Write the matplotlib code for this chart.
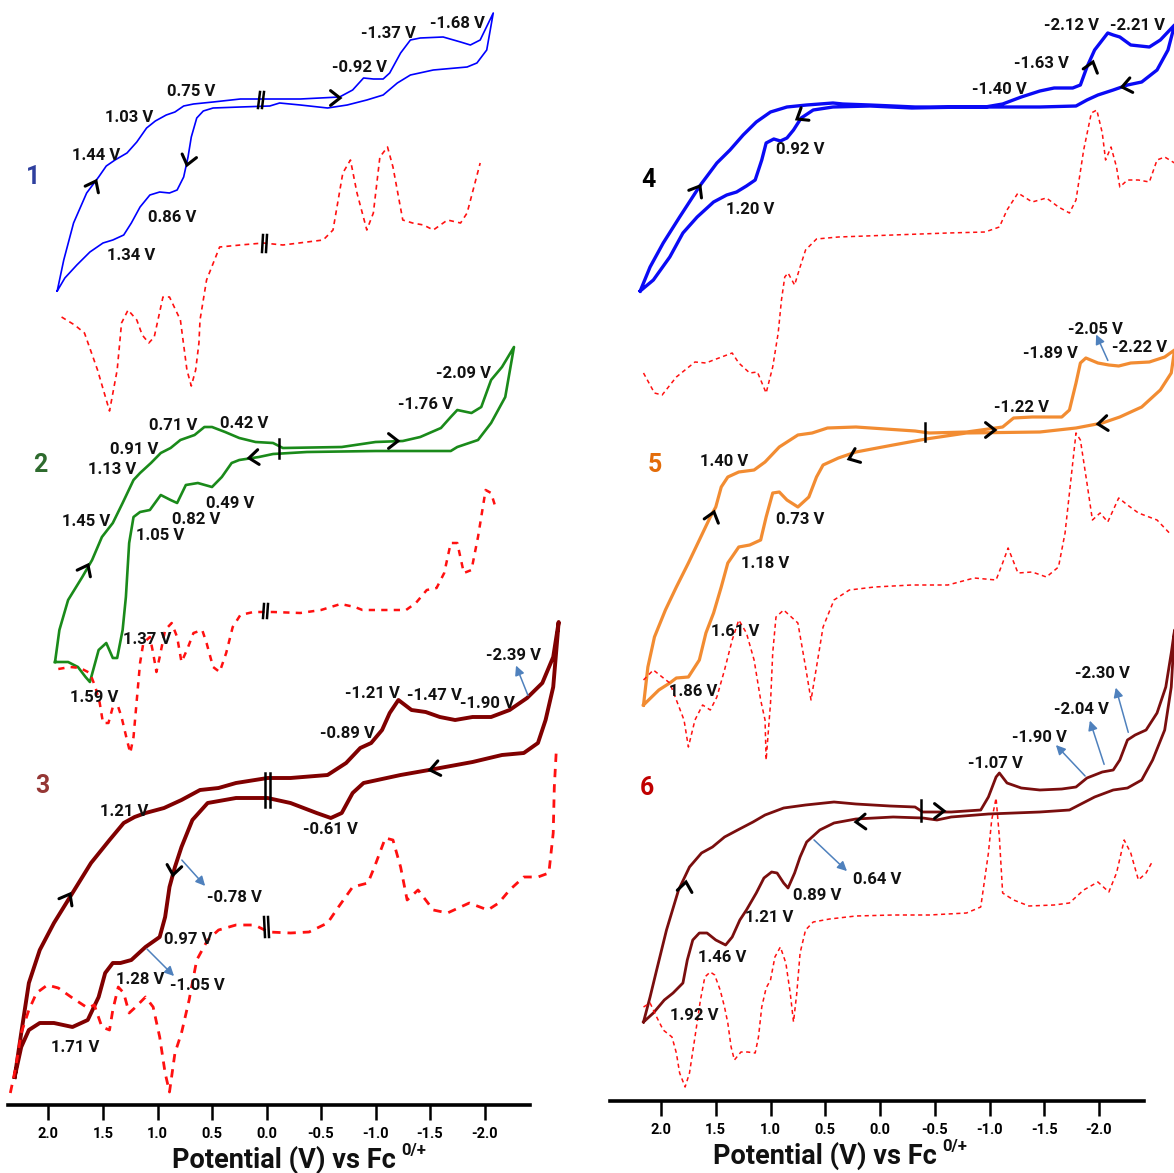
import numpy as np
import matplotlib
matplotlib.use('Agg')
import matplotlib.pyplot as plt
from matplotlib.lines import Line2D
from matplotlib.patches import FancyArrowPatch

plt.rcParams['lines.scale_dashes'] = False

# ---- panel 1 (left column, top) ----
cv1_fwd_E = [1.92, 1.86, 1.77, 1.65, 1.54, 1.47, 1.39, 1.28, 1.19, 1.10, 1.02, 0.92, 0.84, 0.76, 0.67, 0.49,
             0.24, -0.03, -0.10, -0.31, -0.67, -0.79, -0.89, -0.98, -1.07, -1.13, -1.23, -1.32, -1.41, -1.62,
             -1.78, -1.87, -1.96, -2.08]
cv1_fwd_I = [291, 260, 223, 193, 177, 166, 160, 153, 142, 128, 121, 115, 112, 106, 104, 102,
             99, 99, 99, 99, 97, 90, 78, 79, 79, 73, 53, 40, 38, 37,
             42, 45, 40, 13]
cv1_rev_E = [-2.02, -1.93, -1.84, -1.53, -1.32, -1.20, -1.07, -0.92, -0.74, -0.56, -0.31, -0.12, -0.03, 0.24,
             0.49, 0.58, 0.64, 0.69, 0.72, 0.76, 0.82, 0.89, 0.98, 1.07, 1.16, 1.24, 1.31, 1.41, 1.50, 1.62,
             1.74, 1.85, 1.92]
cv1_rev_I = [50, 63, 67, 70, 75, 83, 95, 100, 105, 108, 105, 103, 106, 107,
             108, 111, 118, 137, 157, 177, 190, 193, 192, 195, 207, 223, 235, 240, 243, 252,
             265, 278, 291]
dpv1_E = [1.88, 1.76, 1.67, 1.55, 1.44, 1.37, 1.34, 1.33, 1.27, 1.19, 1.14, 1.08, 1.03, 1.01, 0.95,
          0.89, 0.79, 0.73, 0.69, 0.65, 0.62, 0.61, 0.55, 0.43, 0.24, 0.03, -0.15, -0.52, -0.61, -0.70,
          -0.77, -0.83, -0.92, -0.98, -1.04, -1.11, -1.16, -1.25, -1.34, -1.44, -1.53, -1.66, -1.78, -1.84, -1.96]
dpv1_I = [317, 325, 333, 370, 411, 370, 335, 323, 310, 320, 335, 343, 337, 327, 297,
          297, 320, 370, 386, 370, 343, 320, 280, 247, 245, 243, 245, 240, 230, 173,
          160, 193, 230, 213, 157, 147, 167, 220, 223, 225, 230, 220, 223, 213, 163]

# ---- panel 2 ----
cv2_fwd_E = [1.94, 1.90, 1.82, 1.69, 1.60, 1.51, 1.41, 1.32, 1.22, 1.16, 1.06, 0.97, 0.88, 0.79, 0.66, 0.57, 0.50,
             0.38, 0.25, 0.10, -0.06, -0.15, -0.69, -1.00, -1.25, -1.41, -1.60, -1.69, -1.75, -1.88, -1.97, -2.06,
             -2.16, -2.27]
cv2_fwd_I = [662, 630, 600, 577, 560, 537, 523, 503, 480, 473, 463, 453, 448, 440, 435, 427, 427,
             432, 438, 442, 443, 448, 447, 442, 441, 437, 428, 417, 410, 413, 407, 380,
             367, 347]
cv2_rev_E = [-2.19, -2.06, -1.94, -1.75, -1.69, -1.00, -0.37, -0.06, 0.07, 0.25, 0.32, 0.41, 0.50, 0.63, 0.74,
             0.82, 0.88, 0.97, 1.07, 1.16, 1.22, 1.26, 1.29, 1.32, 1.37, 1.41, 1.47, 1.54, 1.62, 1.66, 1.73, 1.82, 1.94]
cv2_rev_I = [397, 423, 440, 447, 451, 451, 452, 454, 457, 460, 463, 477, 487, 483, 485,
             503, 500, 495, 510, 512, 517, 543, 597, 630, 658, 658, 643, 650, 682, 677, 667, 662, 662]
dpv2_E = [1.91, 1.80, 1.71, 1.62, 1.57, 1.53, 1.50, 1.45, 1.41, 1.36, 1.33, 1.28, 1.25, 1.22, 1.19, 1.16,
          1.13, 1.07, 1.04, 1.01, 0.98, 0.93, 0.87, 0.82, 0.78, 0.73, 0.67, 0.59, 0.55, 0.49, 0.43, 0.37,
          0.31, 0.24, 0.12, -0.06, -0.31, -0.50, -0.68, -0.81, -0.88, -1.06, -1.28, -1.37, -1.47, -1.56,
          -1.63, -1.69, -1.75, -1.81, -1.88, -1.94, -2.01, -2.06, -2.10]
dpv2_I = [669, 667, 668, 673, 687, 703, 723, 723, 707, 707, 717, 740, 753, 737, 700, 663,
          643, 637, 653, 672, 657, 630, 623, 637, 662, 650, 633, 630, 643, 667, 672, 653,
          627, 615, 612, 612, 613, 610, 604, 607, 610, 610, 610, 603, 590, 588,
          573, 543, 543, 573, 570, 537, 490, 493, 507]

# ---- panel 3 ----
cv3_fwd_E = [2.31, 2.25, 2.18, 2.08, 1.95, 1.78, 1.61, 1.44, 1.31, 1.21, 1.11, 0.94, 0.78, 0.61, 0.44, 0.28,
             -0.01, -0.22, -0.56, -0.73, -0.86, -0.96, -1.06, -1.13, -1.21, -1.33, -1.46, -1.59, -1.73, -1.89,
             -2.06, -2.23, -2.39, -2.53, -2.63, -2.68]
cv3_fwd_I = [1077, 1033, 983, 950, 923, 893, 863, 840, 823, 817, 813, 808, 800, 790, 788, 783,
             778, 778, 775, 763, 748, 743, 730, 713, 700, 710, 712, 717, 720, 717,
             717, 710, 698, 683, 657, 622]
cv3_rev_E = [-2.63, -2.56, -2.49, -2.36, -2.16, -1.89, -1.49, -1.23, -0.89, -0.79, -0.69, -0.59, -0.46, -0.22,
             -0.01, 0.28, 0.54, 0.68, 0.78, 0.84, 0.89, 0.93, 0.98, 1.11, 1.24, 1.34, 1.41, 1.48, 1.54, 1.64,
             1.78, 1.95, 2.08, 2.18, 2.25, 2.31]
cv3_rev_I = [687, 720, 743, 753, 755, 762, 770, 775, 783, 793, 813, 818, 813, 803,
             798, 798, 803, 820, 847, 867, 887, 917, 937, 947, 960, 963, 963, 973, 997, 1020,
             1027, 1023, 1023, 1030, 1047, 1077]
dpv3_E = [2.35, 2.30, 2.25, 2.18, 2.11, 2.01, 1.91, 1.78, 1.64, 1.58, 1.51, 1.44, 1.41, 1.36, 1.31, 1.26,
          1.21, 1.11, 1.04, 0.98, 0.93, 0.89, 0.84, 0.78, 0.71, 0.64, 0.54, 0.44, 0.28, 0.11, -0.02, -0.22,
          -0.39, -0.56, -0.66, -0.79, -0.93, -0.99, -1.09, -1.16, -1.23, -1.29, -1.39, -1.53, -1.66, -1.86,
          -2.03, -2.13, -2.23, -2.36, -2.49, -2.59, -2.63, -2.64, -2.66]
dpv3_I = [1093, 1067, 1033, 1010, 993, 985, 988, 998, 1008, 1005, 1027, 1030, 1010, 987, 993, 1013,
          1008, 997, 1007, 1037, 1073, 1092, 1053, 1033, 1000, 960, 940, 930, 925, 925, 932, 933,
          932, 923, 907, 887, 883, 867, 838, 840, 867, 900, 890, 910, 913, 903,
          910, 903, 890, 877, 877, 873, 833, 787, 747]

# ---- panel 4 (right column, top) ----
cv4_fwd_E = [2.19, 2.10, 1.98, 1.83, 1.64, 1.49, 1.37, 1.25, 1.13, 1.00, 0.85, 0.67, 0.43, 0.34, 0.09, -0.12,
             -0.32, -0.62, -0.96, -1.12, -1.29, -1.46, -1.59, -1.76, -1.83, -1.89, -1.96, -2.08, -2.13, -2.19,
             -2.29, -2.46, -2.56, -2.69]
cv4_fwd_I = [291, 267, 243, 217, 185, 163, 150, 135, 122, 112, 107, 105, 103, 104, 105, 106,
             107, 107, 107, 104, 97, 91, 88, 88, 85, 67, 50, 33, 35, 37,
             45, 47, 40, 25]
cv4_rev_E = [-2.63, -2.53, -2.39, -2.26, -2.13, -1.99, -1.89, -1.79, -1.46, -0.79, -0.29, 0.09, 0.43, 0.61, 0.72,
             0.79, 0.85, 0.91, 0.97, 1.04, 1.08, 1.14, 1.22, 1.31, 1.40, 1.52, 1.67, 1.80, 1.92, 2.07, 2.19]
cv4_rev_I = [50, 70, 82, 85, 90, 95, 100, 106, 107, 107, 108, 106, 107, 110, 118,
             130, 138, 141, 139, 143, 160, 180, 186, 192, 195, 202, 217, 233, 257, 280, 291]
dpv4_E = [2.16, 2.06, 1.99, 1.86, 1.69, 1.59, 1.52, 1.35, 1.29, 1.19, 1.12, 1.04, 0.98, 0.93, 0.90, 0.87,
          0.84, 0.78, 0.73, 0.68, 0.58, 0.38, -0.12, -0.62, -0.96, -1.09, -1.16, -1.26, -1.39, -1.52, -1.63,
          -1.73, -1.79, -1.86, -1.93, -1.98, -2.03, -2.06, -2.11, -2.16, -2.19, -2.26, -2.36, -2.46, -2.53,
          -2.60, -2.69]
dpv4_I = [373, 393, 395, 377, 362, 363, 360, 353, 363, 373, 372, 393, 367, 333, 300, 277,
          273, 285, 267, 250, 239, 237, 235, 233, 232, 227, 210, 193, 202, 198, 207,
          213, 200, 150, 113, 110, 133, 160, 147, 167, 187, 180, 180, 182, 160,
          157, 163]

# ---- panel 5 ----
cv5_fwd_E = [2.16, 2.12, 2.06, 1.96, 1.86, 1.75, 1.65, 1.55, 1.50, 1.45, 1.39, 1.29, 1.15, 1.05, 0.92, 0.75,
             0.62, 0.48, 0.22, -0.05, -0.32, -0.45, -0.79, -0.99, -1.12, -1.22, -1.39, -1.66, -1.73, -1.79,
             -1.83, -1.88, -1.99, -2.09, -2.18, -2.29, -2.46, -2.60, -2.69]
cv5_fwd_I = [705, 667, 637, 610, 587, 563, 540, 517, 507, 487, 477, 472, 470, 462, 447, 435,
             433, 428, 427, 429, 431, 433, 432, 429, 427, 418, 417, 417, 410, 383,
             363, 358, 363, 365, 366, 363, 362, 357, 350]
cv5_rev_E = [-2.66, -2.56, -2.39, -2.19, -2.03, -1.79, -1.46, -0.79, -0.42, -0.12, 0.22, 0.38, 0.52, 0.58, 0.65,
             0.75, 0.85, 0.92, 0.98, 1.04, 1.09, 1.19, 1.29, 1.39, 1.45, 1.52, 1.59, 1.65, 1.75, 1.86, 1.92,
             2.02, 2.16]
cv5_rev_I = [373, 390, 407, 417, 423, 428, 432, 433, 439, 445, 452, 458, 465, 477, 497,
             507, 500, 492, 493, 517, 540, 545, 547, 563, 587, 613, 633, 660, 677, 678, 683,
             690, 705]
dpv5_E = [2.16, 2.07, 1.99, 1.92, 1.86, 1.79, 1.75, 1.69, 1.62, 1.55, 1.49, 1.42, 1.35, 1.29, 1.22, 1.15,
          1.09, 1.05, 1.04, 1.00, 0.98, 0.95, 0.88, 0.75, 0.68, 0.63, 0.58, 0.52, 0.42, 0.28, 0.05, -0.29,
          -0.62, -0.86, -1.06, -1.12, -1.17, -1.26, -1.39, -1.52, -1.63, -1.69, -1.74, -1.79, -1.83, -1.89,
          -1.94, -2.01, -2.08, -2.18, -2.26, -2.36, -2.53, -2.66]
dpv5_I = [680, 670, 677, 683, 700, 720, 747, 720, 705, 710, 697, 670, 640, 620, 633, 660,
          700, 720, 760, 703, 653, 617, 610, 623, 667, 700, 667, 627, 600, 590, 587, 585,
          585, 578, 580, 563, 548, 573, 572, 577, 567, 533, 483, 433, 440, 483,
          520, 513, 522, 498, 505, 513, 520, 535]

# ---- panel 6 ----
cv6_fwd_E = [2.16, 2.10, 2.04, 1.95, 1.84, 1.74, 1.63, 1.53, 1.42, 1.30, 1.16, 1.05, 0.88, 0.68, 0.42, 0.22,
             -0.09, -0.32, -0.39, -0.65, -0.92, -0.99, -1.06, -1.09, -1.16, -1.29, -1.46, -1.66, -1.79, -1.89,
             -2.03, -2.13, -2.19, -2.26, -2.33, -2.43, -2.53, -2.61, -2.66, -2.69]
cv6_fwd_I = [1022, 997, 970, 930, 890, 867, 853, 847, 837, 830, 822, 815, 808, 805, 802, 804,
             806, 807, 812, 812, 810, 797, 777, 773, 783, 788, 790, 789, 787, 778,
             772, 770, 760, 740, 735, 730, 713, 687, 653, 630]
cv6_rev_E = [-2.66, -2.60, -2.49, -2.39, -2.26, -2.13, -1.96, -1.73, -1.46, -0.99, -0.65, -0.52, -0.39, -0.12,
             0.22, 0.42, 0.55, 0.67, 0.73, 0.78, 0.84, 0.88, 0.94, 0.99, 1.06, 1.13, 1.22, 1.28, 1.35, 1.41,
             1.50, 1.58, 1.65, 1.71, 1.76, 1.80, 1.89, 1.97, 2.07, 2.16]
cv6_rev_I = [687, 730, 760, 780, 788, 790, 797, 810, 812, 814, 817, 820, 818, 817,
             819, 823, 830, 842, 857, 873, 888, 883, 873, 872, 878, 893, 910, 920, 937, 945,
             940, 933, 933, 940, 960, 983, 993, 1000, 1013, 1022]
dpv6_E = [2.16, 2.10, 2.04, 1.98, 1.90, 1.86, 1.83, 1.78, 1.74, 1.69, 1.64, 1.60, 1.55, 1.51, 1.46, 1.42,
          1.39, 1.36, 1.33, 1.27, 1.21, 1.14, 1.11, 1.08, 1.04, 1.00, 0.96, 0.91, 0.86, 0.82, 0.79, 0.76,
          0.73, 0.68, 0.61, 0.46, 0.22, -0.12, -0.45, -0.79, -0.92, -0.99, -1.02, -1.06, -1.09, -1.12, -1.22,
          -1.36, -1.59, -1.73, -1.86, -1.99, -2.09, -2.16, -2.23, -2.29, -2.36, -2.43, -2.48]
dpv6_I = [1007, 1003, 1017, 1030, 1037, 1053, 1073, 1087, 1073, 1037, 1000, 977, 972, 975, 990, 1007,
          1023, 1047, 1060, 1052, 1052, 1053, 1037, 1007, 988, 980, 957, 947, 963, 993, 1022, 993,
          953, 930, 922, 919, 916, 915, 915, 913, 907, 853, 820, 798, 837, 893, 900,
          906, 905, 903, 890, 882, 892, 873, 840, 853, 880, 873, 863]

ticks = [2.0, 1.5, 1.0, 0.5, 0.0, -0.5, -1.0, -1.5, -2.0]
tick_labels = ['2.0', '1.5', '1.0', '0.5', '0.0', '-0.5', '-1.0', '-1.5', '-2.0']

W, H = 1174, 1173
FONT = ['Roboto', 'DejaVu Sans']


def fp(x, y):
    """pixel position (from top-left) -> figure fraction"""
    return x / W, 1 - y / H


fig = plt.figure(figsize=(W / 100, H / 100), dpi=100)
renderer = fig.canvas.get_renderer()


def fit_size(text, width_px, base=10):
    """font size that gives the text about the width seen in the reference"""
    t = fig.text(0, 0, text, fontsize=base, fontweight='bold', family=FONT)
    w = t.get_window_extent(renderer).width
    t.remove()
    return base * width_px / w


label_fs = fit_size('-1.37 V', 55)
title_fs = fit_size('Potential (V) vs Fc', 224)

axL = fig.add_axes([7.5 / W, 1 - 1105 / H, (530 - 7.5) / W, 1105 / H])
axR = fig.add_axes([610 / W, 1 - 1101 / H, (1144 - 610) / W, 1101 / H])
axL.set_xlim(2.376, -2.417)
axL.set_ylim(1105, 0)
axR.set_xlim(2.466, -2.411)
axR.set_ylim(1101, 0)

for ax in (axL, axR):
    for s in ('left', 'right', 'top'):
        ax.spines[s].set_visible(False)
    ax.spines['bottom'].set_linewidth(2.6)
    ax.set_yticks([])
    ax.set_xticks(ticks)
    ax.set_xticklabels(tick_labels, family=FONT, fontweight='bold', fontsize=10.5)
    ax.tick_params(axis='x', length=11, width=1.8, pad=5, direction='out')
    ax.patch.set_alpha(0)


def cv(ax, fe, fi, re_, ri, color, lw):
    ax.plot(np.concatenate([fe, re_]), np.concatenate([fi, ri]), color=color, lw=lw,
            solid_joinstyle='round', clip_on=False)


def dpv(ax, e, i, lw, dash):
    ax.plot(e, i, color='#FF1010', lw=lw, dashes=dash, clip_on=False)


cv(axL, cv1_fwd_E, cv1_fwd_I, cv1_rev_E, cv1_rev_I, '#0000FF', 1.2)
dpv(axL, dpv1_E, dpv1_I, 1.2, (3.5, 3))
cv(axL, cv2_fwd_E, cv2_fwd_I, cv2_rev_E, cv2_rev_I, '#1A8A1A', 1.9)
dpv(axL, dpv2_E, dpv2_I, 1.8, (4.5, 4.5))
cv(axL, cv3_fwd_E, cv3_fwd_I, cv3_rev_E, cv3_rev_I, '#800000', 2.8)
dpv(axL, dpv3_E, dpv3_I, 2.0, (6, 5))

cv(axR, cv4_fwd_E, cv4_fwd_I, cv4_rev_E, cv4_rev_I, '#0A0AF5', 2.4)
dpv(axR, dpv4_E, dpv4_I, 1.1, (3, 2.5))
cv(axR, cv5_fwd_E, cv5_fwd_I, cv5_rev_E, cv5_rev_I, '#F28C32', 2.3)
dpv(axR, dpv5_E, dpv5_I, 1.1, (3, 2.5))
cv(axR, cv6_fwd_E, cv6_fwd_I, cv6_rev_E, cv6_rev_I, '#7A0E0E', 2.0)
dpv(axR, dpv6_E, dpv6_I, 1.1, (3, 2.5))

# peak labels (pixel positions of text centres)
peak_labels = [
    ('-1.37 V', 388, 33), ('-1.68 V', 457, 24), ('-0.92 V', 360, 67), ('0.75 V', 191, 92),
    ('1.03 V', 129, 118), ('1.44 V', 96, 155), ('0.86 V', 172, 218), ('1.34 V', 131, 255),
    ('-2.09 V', 464, 374), ('-1.76 V', 426, 404), ('0.71 V', 173, 425), ('0.42 V', 244, 423),
    ('0.91 V', 134, 449), ('1.13 V', 112, 470), ('1.45 V', 86, 521), ('0.49 V', 230, 503),
    ('0.82 V', 196, 519), ('1.05 V', 160, 536), ('1.37 V', 147, 640), ('1.59 V', 94, 697),
    ('-2.39 V', 513, 655), ('-1.21 V', 372, 694), ('-1.47 V', 434, 695), ('-1.90 V', 487, 704),
    ('-0.89 V', 347, 734), ('1.21 V', 124, 811), ('-0.61 V', 330, 830), ('-0.78 V', 234, 897),
    ('0.97 V', 188, 940), ('1.28 V', 140, 980), ('-1.05 V', 197, 986), ('1.71 V', 75, 1048),
    ('-2.12 V', 1071, 25), ('-2.21 V', 1137, 25), ('-1.63 V', 1041, 63), ('-1.40 V', 999, 90),
    ('0.92 V', 800, 150), ('1.20 V', 750, 210),
    ('-2.05 V', 1095, 329), ('-1.89 V', 1050, 353), ('-2.22 V', 1140, 348), ('-1.22 V', 1022, 408),
    ('1.40 V', 724, 462), ('0.73 V', 800, 519), ('1.18 V', 765, 563), ('1.61 V', 735, 632),
    ('1.86 V', 693, 691),
    ('-2.30 V', 1102, 674), ('-2.04 V', 1081, 709), ('-1.90 V', 1039, 737), ('-1.07 V', 995, 764),
    ('0.64 V', 877, 880), ('0.89 V', 817, 895), ('1.21 V', 769, 918), ('1.46 V', 722, 957),
    ('1.92 V', 694, 1015),
]
for txt, x, y in peak_labels:
    fig.text(*fp(x, y), txt, ha='center', va='center', fontsize=label_fs, fontweight='bold',
             family=FONT, color='#111111')

panel_ids = [('1', 33, 177, '#2E3F9E'), ('2', 40, 465, '#2E6B2E'), ('3', 42, 786, '#953735'),
             ('4', 648, 180, '#000000'), ('5', 655, 465, '#E36C09'), ('6', 647, 788, '#C00000')]
for txt, x, y, c in panel_ids:
    fig.text(*fp(x, y), txt, ha='center', va='center', fontsize=label_fs * 1.5, fontweight='bold',
             family=FONT, color=c)

# blue pointer arrows (tail -> head, pixels)
pointers = [(529, 698, 515, 663), (180, 858, 207, 888), (145, 947, 176, 978),
            (1109, 363, 1095, 332), (812, 838, 849, 873), (1087, 778, 1054, 743),
            (1105, 767, 1089, 718), (1129, 735, 1115, 685)]
for x0, y0, x1, y1 in pointers:
    fig.add_artist(FancyArrowPatch(fp(x0, y0), fp(x1, y1), transform=fig.transFigure,
                                   arrowstyle='-|>', mutation_scale=14, color='#4F81BD', lw=1.1))

# scan direction chevrons: tip position and direction of travel (pixels, y down)
chevrons = [(96, 181, 0.5, -1), (187, 165, -0.25, 1), (340, 98, 1, 0),
            (88, 565, 0.5, -1), (398, 441, 1, 0), (249, 458, -1, 0.1),
            (70, 894, 0.55, -1), (173, 875, -0.15, 1), (430, 770, -1, 0.2),
            (700, 186, 0.6, -1), (1093, 62, 0.3, -1), (797, 119, -0.8, 0.5), (1122, 87, -1, 0.2),
            (714, 512, 0.3, -1), (995, 430, 1, 0), (1098, 424, -1, 0.1), (849, 459, -1, 0.4),
            (686, 882, 0.15, -1), (944, 811, 1, 0), (856, 822, -1, 0.05)]
arm, half = 12.0, np.radians(38)
for x, y, dx, dy in chevrons:
    ang = np.arctan2(dy, dx)
    xs = [x - arm * np.cos(ang + half), x, x - arm * np.cos(ang - half)]
    ys = [y - arm * np.sin(ang + half), y, y - arm * np.sin(ang - half)]
    fig.add_artist(Line2D([v / W for v in xs], [1 - v / H for v in ys], color='black', lw=2.2,
                          solid_capstyle='round', solid_joinstyle='miter'))

# axis-break marks
breaks = [(260, 92, 258, 108), (264, 92, 262, 108), (263, 235, 262, 252), (267, 235, 266, 252),
          (279, 439, 279, 458), (264, 604, 263, 618), (268, 604, 267, 618),
          (265, 773, 265, 807), (270, 773, 270, 807), (264, 917, 265, 937), (268, 917, 269, 937),
          (925, 423, 925, 441), (921, 800, 921, 821)]
for x0, y0, x1, y1 in breaks:
    fig.add_artist(Line2D([x0 / W, x1 / W], [1 - y0 / H, 1 - y1 / H], color='black', lw=1.8))

# axis titles: main text plus raised "0/+"
for x_left, yc in ((172, 1160), (713, 1156)):
    t = fig.text(*fp(x_left, yc), 'Potential (V) vs Fc', ha='left', va='center', fontsize=title_fs,
                 fontweight='bold', family=FONT, color='#111111')
    x_end = t.get_window_extent(renderer).x1
    fig.text(x_end / W + 5 / W, 1 - (yc - 10) / H, '0/+', ha='left', va='center',
             fontsize=title_fs * 0.62, fontweight='bold', family=FONT, color='#111111')

fig.savefig('out.png', dpi=100)
